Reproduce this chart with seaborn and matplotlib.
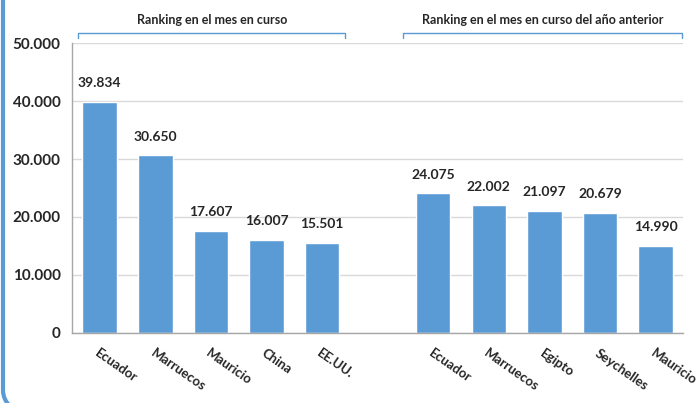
import numpy as np
import pandas as pd
import seaborn as sns
import matplotlib.pyplot as plt
from matplotlib.lines import Line2D

# data
current_countries = ["Ecuador", "Marruecos", "Mauricio", "China", "EE.UU."]
current_values = [39834, 30650, 17607, 16007, 15501]
previous_countries = ["Ecuador", "Marruecos", "Egipto", "Seychelles", "Mauricio"]
previous_values = [24075, 22002, 21097, 20679, 14990]
group_titles = ["Ranking en el mes en curso",
                "Ranking en el mes en curso del año anterior"]
y_ticks = [0, 10000, 20000, 30000, 40000, 50000]

blue = "#5B9BD5"

# one empty slot between the two groups
labels = current_countries + [""] + previous_countries
values = current_values + [np.nan] + previous_values
df = pd.DataFrame({"slot": [f"s{i}" for i in range(len(labels))],
                   "pais": labels, "valor": values})

sns.set_style("white")
plt.rcParams["font.family"] = ["Lato", "DejaVu Sans"]
plt.rcParams["font.weight"] = "bold"

fig = plt.figure(figsize=(6.98, 4.03), dpi=100)
ax = fig.add_axes([0.103, 0.174, 0.876, 0.719])

sns.barplot(data=df, x="slot", y="valor", color=blue, width=0.62,
            saturation=1, ax=ax)

ax.set_ylim(0, 50000)
ax.set_xlim(-0.5, len(labels) - 0.5)
ax.set_yticks(y_ticks)
ax.set_yticklabels([f"{v:,}".replace(",", ".") for v in y_ticks],
                   fontsize=11, fontweight="bold")
ax.yaxis.grid(True, color="#D9D9D9", linewidth=1)
ax.set_axisbelow(True)
ax.set_xlabel("")
ax.set_ylabel("")

# category labels at centres, tick marks at the boundaries
ax.set_xticks(range(len(labels)))
ax.set_xticklabels(labels, rotation=-35, ha="left", va="top",
                   rotation_mode="anchor", fontsize=9.5, fontweight="bold")
ax.tick_params(axis="x", which="major", length=0, pad=10)
ax.set_xticks(np.arange(-0.5, len(labels), 1), minor=True)
ax.tick_params(axis="x", which="minor", length=5, color="#A6A6A6", width=1)
ax.tick_params(axis="y", length=5, color="#A6A6A6", width=1, pad=3)

for side in ["top", "right"]:
    ax.spines[side].set_visible(False)
for side in ["left", "bottom"]:
    ax.spines[side].set_color("#A6A6A6")
    ax.spines[side].set_linewidth(1)

# value labels above the bars
for i, v in enumerate(values):
    if np.isnan(v):
        continue
    ax.text(i, v + 2200, f"{int(v):,}".replace(",", "."), ha="center",
            va="bottom", fontsize=10, fontweight="bold")

# brackets with group titles above the plot
trans = ax.get_xaxis_transform()
for (x0, x1), title in zip([(-0.39, 4.42), (5.46, 10.47)], group_titles):
    ax.plot([x0, x0, x1, x1], [1.017, 1.034, 1.034, 1.017], color=blue,
            linewidth=1, transform=trans, clip_on=False)
    ax.text((x0 + x1) / 2, 1.08, title, ha="center", va="center",
            fontsize=9, fontweight="bold", transform=trans)

# blue frame edge on the left with a rounded bottom corner (inches)
r = 0.22
left, bottom = 0.03, -0.09
theta = np.linspace(np.pi, 1.5 * np.pi, 30)
fx = np.concatenate([[left], left + r + r * np.cos(theta), [2.0]])
fy = np.concatenate([[5.0], bottom + r + r * np.sin(theta), [bottom]])
fig.add_artist(Line2D(fx, fy, color=blue, linewidth=3,
                      transform=fig.dpi_scale_trans))

fig.savefig("out.png", dpi=100)
